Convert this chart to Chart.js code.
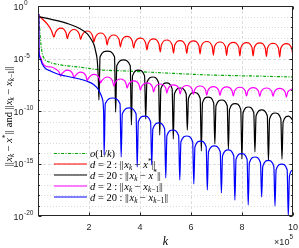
<!DOCTYPE html>
<html>
<head>
<meta charset="utf-8">
<script src="https://cdn.jsdelivr.net/npm/chart.js@4.4.0/dist/chart.umd.min.js"></script>
<style>
html, body { margin: 0; padding: 0; background: #fff; }
canvas { display: block; }
</style>
</head>
<body>
<canvas id="grafica" width="299" height="248"></canvas>
<script>
// k en unidades de 1e5, valores como exponentes de 10
const greenK = [0.031, 0.09, 0.15, 0.23, 0.45, 0.69, 1.0, 1.59, 2.53, 3.44, 5.0, 6.74, 8.5, 10.0];
const greenE = [-0.76, -3.0, -4.3, -4.95, -5.35, -5.52, -5.65, -5.81, -6.10, -6.19, -6.38, -6.57, -6.67, -6.76];

const redK = [0.03, 0.17, 0.36, 0.53, 0.629,
  0.68, 0.89, 1.10, 1.149, 1.20, 1.41, 1.62, 1.670, 1.72, 1.93, 2.14, 2.190,
  2.24, 2.45, 2.66, 2.711, 2.76, 2.97, 3.18, 3.232, 3.28, 3.49, 3.70, 3.752,
  3.80, 4.01, 4.22, 4.273, 4.32, 4.53, 4.74, 4.794, 4.84, 5.05, 5.26, 5.314,
  5.36, 5.57, 5.78, 5.835, 5.88, 6.10, 6.31, 6.356, 6.40, 6.62, 6.83, 6.876,
  6.92, 7.14, 7.35, 7.397, 7.44, 7.66, 7.87, 7.917, 7.96, 8.18, 8.39, 8.438,
  8.48, 8.70, 8.91, 8.959, 9.00, 9.22, 9.43, 9.479, 9.52, 9.74, 9.95, 10.0];
const redE = [-0.92, -1.24, -1.71, -2.35, -2.95,
  -2.55, -2.10, -2.55, -3.10, -2.69, -2.24, -2.69, -3.19, -2.83, -2.38, -2.83, -3.43,
  -3.02, -2.57, -3.02, -3.71, -3.21, -2.76, -3.21, -3.90, -3.35, -2.90, -3.35, -4.00,
  -3.50, -3.05, -3.50, -4.19, -3.59, -3.14, -3.59, -4.38, -3.69, -3.24, -3.69, -4.48,
  -3.74, -3.29, -3.74, -4.52, -3.78, -3.33, -3.78, -4.57, -3.83, -3.38, -3.83, -4.67,
  -3.88, -3.43, -3.88, -4.71, -3.91, -3.46, -3.91, -4.76, -3.94, -3.49, -3.94, -4.76,
  -3.97, -3.52, -3.97, -4.81, -4.00, -3.55, -4.00, -4.86, -4.03, -3.58, -4.03, -4.86];

const blackK = [0.031, 0.558, 1.210, 1.631, 1.945, 2.102, 2.200, 2.259, 2.326, 2.365, 2.389,
  2.434, 2.717, 3.000, 3.045, 3.090, 3.354, 3.617, 3.662, 3.707, 3.943, 4.179, 4.224,
  4.269, 4.499, 4.729, 4.774, 4.819, 5.040, 5.260, 5.305, 5.350, 5.580, 5.810, 5.855,
  5.900, 6.130, 6.360, 6.405, 6.450, 6.670, 6.890, 6.935, 6.980, 7.200, 7.421, 7.466,
  7.511, 7.731, 7.951, 7.996, 8.041, 8.251, 8.462, 8.507, 8.552, 8.772, 8.992, 9.037,
  9.082, 9.302, 9.523, 9.568, 9.613, 9.830, 10.0];
const blackE = [-1.02, -1.29, -1.71, -2.14, -2.67, -3.24, -3.71, -4.29, -5.24, -6.86, -8.95,
  -4.84, -4.29, -4.84, -10.10, -5.69, -5.14, -5.69, -11.33, -6.65, -6.10, -6.65, -10.76,
  -7.31, -6.76, -7.31, -12.29, -7.88, -7.33, -7.88, -12.67, -8.36, -7.81, -8.36, -11.81,
  -8.79, -8.24, -8.79, -13.81, -9.22, -8.67, -9.22, -13.14, -9.50, -8.95, -9.50, -13.62,
  -9.84, -9.29, -9.84, -14.57, -10.17, -9.62, -10.17, -13.90, -10.45, -9.90, -10.45, -14.76,
  -10.74, -10.19, -10.74, -14.57, -11.03, -10.48, -10.90];

const magK = [0.031, 0.035, 0.079, 0.177, 0.334, 0.53, 0.688, 0.825, 0.888,
  0.938, 1.149, 1.361, 1.411, 1.461, 1.670, 1.879, 1.929, 1.979, 2.190, 2.402, 2.452,
  2.502, 2.711, 2.921, 2.971, 3.021, 3.232, 3.443, 3.493, 3.543, 3.752, 3.962, 4.012,
  4.062, 4.273, 4.484, 4.534, 4.584, 4.794, 5.003, 5.053, 5.103, 5.314, 5.526, 5.576,
  5.626, 5.835, 6.044, 6.094, 6.144, 6.356, 6.567, 6.617, 6.667, 6.876, 7.086, 7.136,
  7.186, 7.397, 7.608, 7.658, 7.708, 7.917, 8.127, 8.177, 8.227, 8.438, 8.649, 8.699,
  8.749, 8.959, 9.168, 9.218, 9.268, 9.479, 9.691, 9.741, 9.791, 10.0];
const magE = [-0.76, -3.90, -4.76, -5.43, -5.76, -5.81, -6.00, -6.29, -6.67,
  -6.45, -6.10, -6.45, -6.86, -6.64, -6.29, -6.64, -7.10, -6.87, -6.52, -6.87, -7.33,
  -7.11, -6.76, -7.11, -7.62, -7.30, -6.95, -7.30, -7.81, -7.49, -7.14, -7.49, -8.00,
  -7.68, -7.33, -7.68, -8.19, -7.78, -7.43, -7.78, -8.29, -7.87, -7.52, -7.87, -8.38,
  -7.92, -7.57, -7.92, -8.43, -7.97, -7.62, -7.97, -8.48, -8.02, -7.67, -8.02, -8.52,
  -8.06, -7.71, -8.06, -8.57, -8.09, -7.74, -8.09, -8.57, -8.12, -7.77, -8.12, -8.62,
  -8.16, -7.81, -8.16, -8.62, -8.19, -7.84, -8.19, -8.67, -8.22, -7.87];

const blueK = [0.031, 0.035, 0.079, 0.165, 0.295, 0.491, 0.766, 1.081, 1.631, 1.945, 2.181, 2.377, 2.515, 2.574, 2.593,
  2.638, 2.927, 3.216, 3.261, 3.306, 3.576, 3.845, 3.890, 3.935, 4.175, 4.415, 4.460,
  4.505, 4.735, 4.965, 5.010, 5.055, 5.285, 5.515, 5.560, 5.605, 5.835, 6.065, 6.110,
  6.155, 6.375, 6.595, 6.640, 6.685, 6.915, 7.146, 7.191, 7.236, 7.456, 7.676, 7.721,
  7.766, 7.983, 8.199, 8.244, 8.289, 8.507, 8.725, 8.770, 8.815, 9.032, 9.248, 9.293,
  9.338, 9.554, 9.770, 9.815, 9.860, 10.0];
const blueE = [-0.76, -3.90, -4.95, -5.52, -5.95, -6.19, -6.48, -6.67, -6.95, -7.19, -7.48, -8.00, -8.76, -10.10, -14.19,
  -9.31, -8.76, -9.31, -14.38, -10.26, -9.71, -10.26, -15.33, -11.03, -10.48, -11.03, -15.14,
  -11.69, -11.14, -11.69, -16.38, -12.36, -11.81, -12.36, -16.57, -12.93, -12.38, -12.93, -16.95,
  -13.41, -12.86, -13.41, -17.52, -13.88, -13.33, -13.88, -17.81, -14.26, -13.71, -14.26, -18.48,
  -14.60, -14.05, -14.60, -18.95, -14.93, -14.38, -14.93, -18.19, -15.26, -14.71, -15.26, -19.05,
  -15.60, -15.05, -15.60, -20.0, -16.2, -15.6];

const xTicks = [2, 4, 6, 8, 10];
const xTickLabels = ['2', '4', '6', '8', '10'];
const yTickExps = [0, -5, -10, -15, -20];

const SERIF = '"Liberation Serif", "DejaVu Serif", serif';
const SANS = '"Liberation Sans", Arial, sans-serif';

// etiquetas con subindices: [texto, tipo]
const legendRows = [
  [['o', 'i'], ['(1/', 'r'], ['k', 'i'], [')', 'r']],
  [['d', 'i'], [' = 2 : ', 'r'], ['||', 'n'], ['x', 'i'], ['k', 'si'], [' − ', 'r'], ['x', 'i'], ['*', 'pr'], ['||', 'n']],
  [['d', 'i'], [' = 20 : ', 'r'], ['||', 'n'], ['x', 'i'], ['k', 'si'], [' − ', 'r'], ['x', 'i'], ['*', 'pr'], ['||', 'n']],
  [['d', 'i'], [' = 2 : ', 'r'], ['||', 'n'], ['x', 'i'], ['k', 'si'], [' − ', 'r'], ['x', 'i'], ['k', 'si'], ['−1', 'sr'], ['||', 'n']],
  [['d', 'i'], [' = 20 : ', 'r'], ['||', 'n'], ['x', 'i'], ['k', 'si'], [' − ', 'r'], ['x', 'i'], ['k', 'si'], ['−1', 'sr'], ['||', 'n']]
];
const yTitle = [['||', 'n'], ['x', 'i'], ['k', 'si'], [' − ', 'r'], ['x', 'i'], ['*', 'pr'], ['||', 'n'], [' and ', 'r'], ['||', 'n'],
  ['x', 'i'], ['k', 'si'], [' − ', 'r'], ['x', 'i'], ['k', 'si'], ['−1', 'sr'], ['||', 'n']];

function serie(ks, es) {
  return ks.map((k, i) => ({ x: k, y: Math.pow(10, es[i]) }));
}

function richText(ctx, parts, x, y, size, align) {
  const kinds = {
    r: [size, 'normal', 0], i: [size, 'italic', 0], n: [size, 'normal', 0],
    si: [size * 0.7, 'italic', size * 0.25], sr: [size * 0.7, 'normal', size * 0.25],
    pr: [size * 0.7, 'normal', -size * 0.38]
  };
  const setF = k => { const f = kinds[k]; ctx.font = f[1] + ' ' + f[0] + 'px ' + SERIF; return f; };
  // las barras de norma van juntas
  const ancho = p => p[1] === 'n' ? size * 0.42 : ctx.measureText(p[0]).width;
  let w = 0;
  parts.forEach(p => { setF(p[1]); w += ancho(p); });
  let cx = align === 'center' ? x - w / 2 : x;
  ctx.textAlign = 'left';
  ctx.textBaseline = 'alphabetic';
  parts.forEach(p => {
    const f = setF(p[1]);
    if (p[1] === 'n') {
      ctx.fillText('|', cx, y);
      ctx.fillText('|', cx + size * 0.17, y);
    } else {
      ctx.fillText(p[0], cx, y + f[2]);
    }
    cx += ancho(p);
  });
}

const ejes = {
  id: 'ejes',
  beforeDatasetsDraw(chart) {
    const { ctx, chartArea: a, scales: { x, y } } = chart;
    ctx.save();
    ctx.lineWidth = 1;
    for (let e = -1; e >= -19; e--) {
      const py = Math.round(y.getPixelForValue(Math.pow(10, e))) + 0.5;
      ctx.beginPath();
      if (e % 5 === 0) { ctx.strokeStyle = '#dcdcdc'; ctx.setLineDash([3, 2]); }
      else { ctx.strokeStyle = '#d9d9d9'; ctx.setLineDash([1, 2]); }
      ctx.moveTo(a.left, py); ctx.lineTo(a.right, py); ctx.stroke();
    }
    ctx.strokeStyle = '#dcdcdc'; ctx.setLineDash([3, 2]);
    xTicks.slice(0, 4).forEach(v => {
      const px = Math.round(x.getPixelForValue(v)) + 0.5;
      ctx.beginPath(); ctx.moveTo(px, a.top); ctx.lineTo(px, a.bottom); ctx.stroke();
    });
    ctx.restore();
  },
  afterDatasetsDraw(chart) {
    const { ctx, chartArea: a, scales: { x, y } } = chart;
    const L = Math.round(a.left) + 0.5, R = Math.round(a.right) - 0.5;
    const T = Math.round(a.top) + 0.5, B = Math.round(a.bottom) - 0.5;
    ctx.save();
    ctx.strokeStyle = '#262626'; ctx.lineWidth = 1;
    ctx.strokeRect(L, T, R - L, B - T);
    ctx.beginPath();
    xTicks.forEach(v => {
      const px = Math.round(x.getPixelForValue(v)) + 0.5;
      ctx.moveTo(px, B); ctx.lineTo(px, B - 3); ctx.moveTo(px, T); ctx.lineTo(px, T + 3);
    });
    for (let e = 0; e >= -20; e--) {
      const py = Math.round(y.getPixelForValue(Math.pow(10, e))) + 0.5;
      const len = e % 5 === 0 ? 3 : 1.5;
      ctx.moveTo(L, py); ctx.lineTo(L + len, py); ctx.moveTo(R, py); ctx.lineTo(R - len, py);
    }
    ctx.stroke();

    // etiquetas de ejes
    ctx.fillStyle = '#262626';
    ctx.textBaseline = 'middle';
    ctx.textAlign = 'center';
    ctx.font = '9px ' + SANS;
    xTicks.forEach((v, i) => ctx.fillText(xTickLabels[i], x.getPixelForValue(v), 227.5));
    ctx.textAlign = 'left';
    yTickExps.forEach(e => {
      const py = y.getPixelForValue(Math.pow(10, e));
      ctx.font = '9px ' + SANS;
      ctx.fillText('10', 13.5, py + 1.5);
      const w = ctx.measureText('10').width;
      ctx.font = '6.5px ' + SANS;
      ctx.fillText(String(e), 13.5 + w + 0.5, py - 2.5);
    });
    // x10^5
    ctx.font = '9px ' + SANS;
    const w1 = ctx.measureText('×10').width;
    ctx.font = '6.5px ' + SANS;
    const w2 = ctx.measureText('5').width;
    ctx.font = '9px ' + SANS;
    ctx.fillText('×10', 293 - w1 - w2, 242.5);
    ctx.font = '6.5px ' + SANS;
    ctx.fillText('5', 293 - w2, 237.5);

    ctx.fillStyle = '#000';
    richText(ctx, [['k', 'i']], (a.left + a.right) / 2, 245, 12, 'center');
    ctx.save();
    ctx.translate(7.5, 116);
    ctx.rotate(-Math.PI / 2);
    richText(ctx, yTitle, 0, 4, 10.5, 'center');
    ctx.restore();

    // leyenda
    const rowsY = [153.5, 164, 175, 186, 197];
    const ds = chart.data.datasets;
    legendRows.forEach((row, i) => {
      const d = ds[i];
      ctx.strokeStyle = d.borderColor;
      ctx.lineWidth = d.borderWidth;
      ctx.setLineDash(d.borderDash || []);
      ctx.beginPath(); ctx.moveTo(54, rowsY[i]); ctx.lineTo(87, rowsY[i]); ctx.stroke();
      ctx.setLineDash([]);
      ctx.fillStyle = '#000';
      richText(ctx, row, 90, rowsY[i] + 3.5, 10.5, 'left');
    });
    ctx.restore();
  }
};

const graphic = document.getElementById('grafica');
const chart = new Chart(graphic, {
  type: 'line',
  data: {
    datasets: [
      { data: serie(greenK, greenE), borderColor: 'rgb(0,170,0)', borderWidth: 1.2, borderDash: [3, 1.5, 1, 1.5], order: 5 },
      { data: serie(redK, redE), borderColor: '#ff0000', borderWidth: 1.2, order: 4 },
      { data: serie(blackK, blackE), borderColor: '#000000', borderWidth: 1.2, order: 3 },
      { data: serie(magK, magE), borderColor: '#ff00ff', borderWidth: 1.2, order: 2 },
      { data: serie(blueK, blueE), borderColor: '#0000ff', borderWidth: 1.2, order: 1 }
    ]
  },
  options: {
    responsive: false,
    animation: false,
    layout: { padding: { left: 38, right: 6, top: 6, bottom: 32 } },
    plugins: { legend: { display: false }, tooltip: { enabled: false } },
    elements: { point: { radius: 0 }, line: { cubicInterpolationMode: 'monotone', fill: false } },
    scales: {
      x: { type: 'linear', min: 0, max: 10, display: false },
      y: { type: 'logarithmic', min: 1e-20, max: 1, display: false }
    }
  },
  plugins: [ejes]
});
</script>
</body>
</html>
